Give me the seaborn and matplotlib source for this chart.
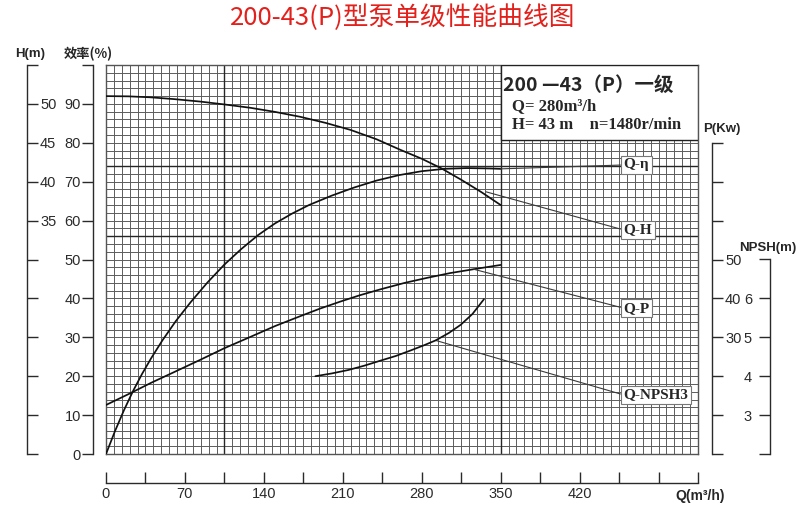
import matplotlib
matplotlib.use('Agg')
import matplotlib.pyplot as plt
from matplotlib.patches import Rectangle
import seaborn as sns

# ---------------- data ----------------
q_h = [0, 20, 39, 60, 83.5, 105, 128, 150, 172, 195, 217, 240, 261, 280, 297, 315, 333, 350]
head = [51.0, 50.97, 50.85, 50.62, 50.3, 49.93, 49.5, 48.97, 48.35, 47.55, 46.65, 45.45,
        44.1, 42.95, 41.75, 40.25, 38.65, 37.0]

q_eff = [0, 8, 16, 24, 32, 40, 50, 62, 75, 90, 105, 120, 135, 150, 165, 180, 200,
         220, 240, 260, 280, 300, 320, 340, 350]
eff = [0, 5.9, 11.3, 16.2, 20.6, 24.6, 29.2, 34.2, 39.0, 44.1, 48.7, 52.7, 56.3, 59.3,
       61.8, 64.0, 66.4, 68.5, 70.3, 71.7, 72.7, 73.3, 73.5, 73.4, 73.3]

q_p = [0, 20, 40, 60, 83.5, 105, 128, 150, 172, 190, 208, 225, 243, 265, 285, 305, 326, 350]
power = [12.6, 15.4, 18.3, 21.0, 24.2, 27.2, 30.1, 32.9, 35.4, 37.4, 39.2, 40.8, 42.3,
         44.0, 45.3, 46.5, 47.5, 48.6]

q_npsh = [185.7, 200, 215, 229, 243.4, 257, 270, 282, 292.3, 304, 314.5, 325, 335.2]
npsh = [4.0, 4.07, 4.16, 4.27, 4.40, 4.52, 4.66, 4.795, 4.92, 5.11, 5.32, 5.60, 5.98]

q_ticks = [0, 70, 140, 210, 280, 350, 420]
h_labels = [35, 40, 45, 50]
eff_labels = [0, 10, 20, 30, 40, 50, 60, 70, 80, 90]
p_labels = [30, 40, 50]
npsh_labels = [3, 4, 5, 6]

title = "200-43(P)型泵单级性能曲线图"
model = "200 —43（P）一级"
rated_q = 280
rated_h = 43
speed = 1480

# ---------------- style ----------------
sns.set_theme(style='white')
plt.rcParams['font.family'] = ['Liberation Sans', 'Noto Sans CJK SC', 'DejaVu Sans']

W, H = 800, 520
fig = plt.figure(figsize=(8, 5.2), dpi=100)
fig.patch.set_facecolor('white')
PT = 72 / 100  # points per pixel


def fx(px):
    return px / W


def fy(py):
    return 1 - py / H


def ftext(px, py, s, **kw):
    return fig.text(fx(px), fy(py), s, **kw)


GL, GR, GT, GB = 106, 698, 65, 454
QMAX = 525
SP = '#2a2a2a'
NUMFONT = ['Liberation Sans Narrow', 'Liberation Sans', 'DejaVu Sans']

# main grid axes (efficiency scale)
ax = fig.add_axes([fx(GL), fy(GB), fx(GR - GL), (GB - GT) / H])
ax.set_facecolor('white')

ax_hc = ax.twinx()
ax_nc = ax.twinx()

LW = 1.25
sns.lineplot(x=q_eff, y=eff, ax=ax, color='#111111', lw=LW, zorder=5)
sns.lineplot(x=q_p, y=power, ax=ax, color='#111111', lw=LW, zorder=5)
sns.lineplot(x=q_h, y=head, ax=ax_hc, color='#111111', lw=LW)
sns.lineplot(x=q_npsh, y=npsh, ax=ax_nc, color='#111111', lw=LW)

ax.set_xlim(0, QMAX)
ax.set_ylim(0, 100)
ax_hc.set_ylim(5, 55)
ax_nc.set_ylim(2, 12)
for a in (ax_hc, ax_nc):
    a.set_xlim(0, QMAX)
    a.axis('off')

ax.set_xticks([])
ax.set_yticks([])
ax.set_xticks(list(range(0, QMAX + 1, 7)), minor=True)
ax.set_yticks(list(range(0, 101, 2)), minor=True)
ax.tick_params(which='both', length=0, labelbottom=False, labelleft=False)
ax.grid(True, which='minor', color='#5c5c5c', lw=0.7)
ax.set_xlabel('')
ax.set_ylabel('')
for v in (105, 350):
    ax.axvline(v, color='#262626', lw=1.0, zorder=2)
for v in (56, 74):
    ax.axhline(v, color='#262626', lw=1.0, zorder=2)
for s in ax.spines.values():
    s.set_color('#555555')
    s.set_linewidth(1.0)

# info box
ax.add_patch(Rectangle((350, 80.7), QMAX - 350, 19.3, facecolor='white',
                       edgecolor='#222222', lw=1.0, zorder=6))
ftext(503, 85, model, fontsize=14, weight='bold',
      family=['Noto Sans CJK SC', 'DejaVu Sans'], va='center', ha='left', zorder=7)
ftext(512, 106, f"Q= {rated_q}m³/h", fontsize=12, family=['Liberation Serif'],
      va='center', ha='left', weight='bold', zorder=7)
ftext(512, 125, f"H= {rated_h} m    n={speed}r/min", fontsize=12,
      family=['Liberation Serif'], va='center', ha='left', weight='bold', zorder=7)

# curve labels with leader lines
lab_kw = dict(fontsize=11, family=['Liberation Serif', 'DejaVu Serif'], weight='bold',
              ha='left', va='center', textcoords='data',
              bbox=dict(boxstyle='square,pad=0.18', fc='white', ec='#777777', lw=0.8),
              arrowprops=dict(arrowstyle='-', color='#3a3a3a', lw=0.8,
                              shrinkA=0, shrinkB=0, relpos=(0, 0.5)),
              zorder=8)
ax.annotate('Q-η', xy=(q_eff[-1], eff[-1]), xycoords=ax.transData,
            xytext=(459, 74.3), **lab_kw)
ax.annotate('Q-H', xy=(337, 38.7), xycoords=ax_hc.transData,
            xytext=(459, 57.6), **lab_kw)
ax.annotate('Q-P', xy=(326, 47.5), xycoords=ax.transData,
            xytext=(459, 37.5), **lab_kw)
ax.annotate('Q-NPSH3', xy=(292.3, 4.92), xycoords=ax_nc.transData,
            xytext=(459, 15.2), **lab_kw)

TL = 11 * PT  # tick length 11 px
tick_kw = dict(labelsize=10.5, colors=SP, width=1.0, length=TL)


def bare(a):
    a.set_facecolor('none')
    for s in a.spines.values():
        s.set_visible(False)
    a.set_xticks([])


def num_font(a, axis='y'):
    labs = a.get_yticklabels() if axis == 'y' else a.get_xticklabels()
    for t in labs:
        t.set_family(NUMFONT)


# H axis (left bracket, labels to the right)
axH = fig.add_axes([fx(22), fy(GB), fx(5), (GB - GT) / H])
bare(axH)
axH.set_ylim(5, 55)
axH.spines['right'].set_visible(True)
axH.spines['right'].set_color(SP)
axH.spines['right'].set_linewidth(1.0)
axH.yaxis.tick_right()
hvals = list(range(5, 56, 5))
axH.set_yticks(hvals, labels=[str(v) if v in h_labels else '' for v in hvals])
axH.tick_params(axis='y', direction='out', pad=2 * PT, left=False, right=True,
                labelleft=False, labelright=True, **tick_kw)
num_font(axH)

# efficiency axis
axE = fig.add_axes([fx(93), fy(GB), fx(5), (GB - GT) / H])
bare(axE)
axE.set_ylim(0, 100)
axE.spines['left'].set_visible(True)
axE.spines['left'].set_color(SP)
axE.spines['left'].set_linewidth(1.0)
evals = list(range(0, 101, 10))
axE.set_yticks(evals, labels=[str(v) if v in eff_labels else '' for v in evals])
axE.tick_params(axis='y', direction='out', pad=1 * PT, left=True, right=False,
                labelleft=True, **tick_kw)
num_font(axE)

# power axis
axP = fig.add_axes([fx(707), fy(GB), fx(5), (GB - GT) / H])
bare(axP)
axP.set_ylim(0, 100)
axP.spines['right'].set_visible(True)
axP.spines['right'].set_color(SP)
axP.spines['right'].set_linewidth(1.0)
axP.spines['right'].set_bounds(0, 80)
axP.yaxis.tick_right()
pvals = list(range(0, 81, 10))
axP.set_yticks(pvals, labels=[str(v) if v in p_labels else '' for v in pvals])
axP.tick_params(axis='y', direction='out', pad=2 * PT, left=False, right=True,
                labelleft=False, labelright=True, **tick_kw)
num_font(axP)

# NPSH axis
axN = fig.add_axes([fx(770), fy(GB), fx(5), (GB - GT) / H])
bare(axN)
axN.set_ylim(2, 12)
axN.spines['left'].set_visible(True)
axN.spines['left'].set_color(SP)
axN.spines['left'].set_linewidth(1.0)
axN.spines['left'].set_bounds(2, 7)
nvals = list(range(2, 8))
axN.set_yticks(nvals, labels=[str(v) if v in npsh_labels else '' for v in nvals])
axN.tick_params(axis='y', direction='out', pad=7 * PT, left=True, right=False,
                labelleft=True, **tick_kw)
num_font(axN)

# Q axis (separate baseline below the grid)
axQ = fig.add_axes([fx(GL), fy(483), fx(GR - GL), 0.01])
axQ.set_facecolor('none')
for k, s in axQ.spines.items():
    s.set_visible(k == 'bottom')
axQ.spines['bottom'].set_color(SP)
axQ.spines['bottom'].set_linewidth(1.0)
axQ.set_xlim(0, QMAX)
axQ.set_yticks([])
qvals = list(range(0, QMAX + 1, 35))
axQ.set_xticks(qvals, labels=[str(v) if v in q_ticks else '' for v in qvals])
axQ.tick_params(axis='x', direction='in', pad=4 * PT, bottom=True, top=False,
                labelbottom=True, **tick_kw)
num_font(axQ, 'x')

# axis titles
ftext(30, 54, 'H(m)', fontsize=9.5, weight='bold', ha='center', va='center',
      family=NUMFONT)
ftext(88, 54, '效率(%)', fontsize=9.5, weight='bold', ha='center', va='center',
      family=['Noto Sans CJK SC', 'DejaVu Sans'])
ftext(722, 129, 'P(Kw)', fontsize=9.5, weight='bold', ha='center', va='center',
      family=NUMFONT)
ftext(768, 248, 'NPSH(m)', fontsize=9.5, weight='bold', ha='center', va='center',
      family=NUMFONT)
ftext(700, 496, 'Q(m³/h)', fontsize=10, weight='bold', ha='center', va='center',
      family=NUMFONT)

# title
ftext(403, 18, title, fontsize=18.5, color='#e3211c', ha='center', va='center',
      family=['Noto Sans CJK SC', 'DejaVu Sans'])

fig.savefig('out.png', dpi=100, facecolor='white')
